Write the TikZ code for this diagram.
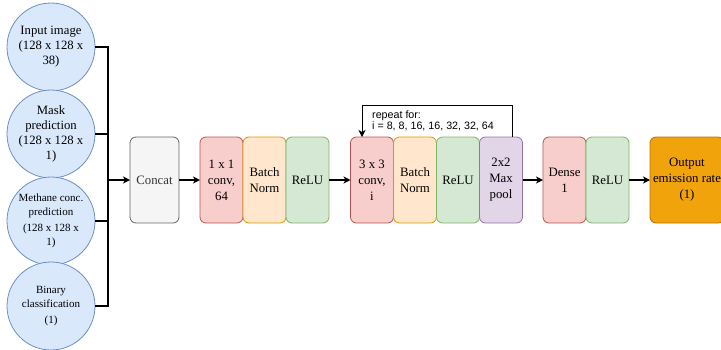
\documentclass[tikz,border=0pt]{standalone}
\usepackage{fontspec}
\setmainfont{Liberation Serif}
\setsansfont{Liberation Sans}
\usetikzlibrary{positioning,arrows.meta}

\definecolor{inFill}{HTML}{DAE8FC}
\definecolor{inLine}{HTML}{6C8EBF}
\definecolor{grayFill}{HTML}{F5F5F5}
\definecolor{grayLine}{HTML}{666666}
\definecolor{grayText}{HTML}{333333}
\definecolor{convFill}{HTML}{F8CECC}
\definecolor{convLine}{HTML}{B85450}
\definecolor{normFill}{HTML}{FFE6CC}
\definecolor{normLine}{HTML}{D79B00}
\definecolor{reluFill}{HTML}{D5E8D4}
\definecolor{reluLine}{HTML}{82B366}
\definecolor{poolFill}{HTML}{E1D5E7}
\definecolor{poolLine}{HTML}{9673A6}
\definecolor{outFill}{HTML}{F0A30A}
\definecolor{outLine}{HTML}{BD7000}

\begin{document}
\begin{tikzpicture}[x=1pt,y=-1pt,
        inputcircle/.style={circle,draw=inLine,fill=inFill,line width=0.8pt,minimum size=88pt,
            inner sep=0pt,align=center,font=\fontsize{12.7}{15}\selectfont},
        smallcircle/.style={inputcircle,font=\fontsize{11}{14}\selectfont},
        layerbox/.style={rectangle,rounded corners=6pt,line width=0.8pt,minimum width=43pt,
            minimum height=86pt,inner sep=1pt,outer sep=0pt,align=center,font=\fontsize{12.8}{16}\selectfont},
        convbox/.style={layerbox,draw=convLine,fill=convFill},
        normbox/.style={layerbox,draw=normLine,fill=normFill},
        relubox/.style={layerbox,draw=reluLine,fill=reluFill},
        poolbox/.style={layerbox,draw=poolLine,fill=poolFill},
        flow/.style={-{Stealth[length=7pt,width=7pt,inset=2pt]},line width=1.1pt},
        wire/.style={line width=1.1pt}
    ]

    % ----------
    % Bounds.
    % ----------
    \useasboundingbox (0,0) rectangle (721,349);

    % -----------
    % Parameters.
    % -----------
    \pgfmathsetmacro{\xIn}{51}        % x-position of input circles.
    \pgfmathsetmacro{\yMid}{180}      % y-position of layer row.
    \pgfmathsetmacro{\xMerge}{108}    % x-position of merging line.
    \pgfmathsetmacro{\yLoop}{105}     % y-position of repeat loop.

    % --------
    % Inputs.
    % --------
    \node[inputcircle] (inImage) at (\xIn,47) {Input image\\(128 x 128 x\\38)};
    \node[inputcircle] (inMask) at (\xIn,134) {Mask\\prediction\\(128 x 128 x\\1)};
    \node[smallcircle] (inConc) at (\xIn,221) {Methane conc.\\prediction\\[2pt](128 x 128 x\\1)};
    \node[smallcircle] (inBinary) at (\xIn,306) {Binary\\classification\\[2pt](1)};

    % --------
    % Layers.
    % --------
    \node[layerbox,draw=grayLine,fill=grayFill,text=grayText,minimum width=49pt] (concat) at (154.5,\yMid) {Concat};

    \node[convbox] (convA) at (221.5,\yMid) {1 x 1\\conv,\\64};
    \node[normbox,right=0pt of convA] (normA) {Batch\\Norm};
    \node[relubox,right=0pt of normA] (reluA) {ReLU};

    \node[convbox] (convB) at (372,\yMid) {3 x 3\\conv,\\i};
    \node[normbox,right=0pt of convB] (normB) {Batch\\Norm};
    \node[relubox,right=0pt of normB] (reluB) {ReLU};
    \node[poolbox,right=0pt of reluB] (poolB) {2x2\\Max\\pool};

    \node[convbox] (dense) at (564.5,\yMid) {Dense\\1};
    \node[relubox,right=0pt of dense] (reluC) {ReLU};

    \node[layerbox,draw=outLine,fill=outFill,minimum width=74pt] (output) at (687,\yMid) {Output\\emission rate\\(1)};

    % Repeat note.
    \node[anchor=west,align=left,inner sep=0pt,font=\sffamily\fontsize{10.7}{11}\selectfont] (repeatNote) at (372,121) {repeat for:\\i = 8, 8, 16, 16, 32, 32, 64};

    % ------------
    % Connectors.
    % ------------
    \coordinate (merge) at (\xMerge,\yMid);
    \coordinate (loopRight) at (512,\yLoop);
    \coordinate (loopLeft) at (362,\yLoop);

    % Inputs to merging line.
    \draw[wire] (inImage.east) -- (inImage.east -| merge) -- (inBinary.east -| merge) -- (inBinary.east);
    \draw[wire] (inMask.east) -- (inMask.east -| merge);
    \draw[wire] (inConc.east) -- (inConc.east -| merge);

    % Layer chain.
    \draw[flow] (merge) -- (concat.west);
    \draw[flow] (concat.east) -- (convA.west);
    \draw[flow] (reluA.east) -- (convB.west);
    \draw[flow] (poolB.east) -- (dense.west);
    \draw[flow] (reluC.east) -- (output.west);

    % Repeat loop.
    \draw[flow,line width=0.9pt] (poolB.north -| loopRight) -- (loopRight) -- (loopLeft) -- (convB.north -| loopLeft);

\end{tikzpicture}
\end{document}
